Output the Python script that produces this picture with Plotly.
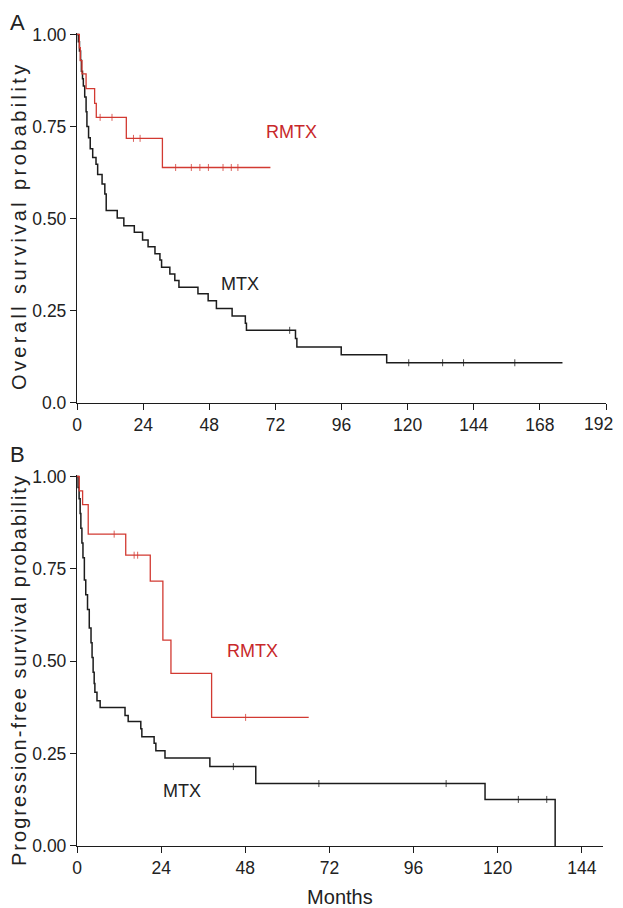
import numpy as np
import plotly.graph_objects as go

# ---------------- Data ----------------
# Panel A: Overall survival
os_rmtx_time = [0, 0.85, 1.2, 1.8, 3.3, 6.4, 7.0, 17.9, 31.0, 70.2]
os_rmtx_surv = [1.0, 0.964, 0.929, 0.893, 0.853, 0.813, 0.775, 0.718, 0.639, 0.639]
os_rmtx_cens = [8.4, 12.7, 20.5, 22.9, 35.8, 41.5, 44.6, 47.7, 53.0, 56.0, 58.4]

os_mtx_time = [0, 0.5, 0.9, 1.3, 1.6, 2.0, 2.3, 2.8, 3.3, 3.6, 4.2, 4.8, 5.7, 6.9,
               7.5, 9.1, 10.1, 10.6, 14.6, 17.0, 20.8, 23.8, 25.8, 28.3, 30.1, 30.7,
               33.7, 35.5, 37.0, 43.9, 47.6, 50.6, 56.3, 61.1, 61.5, 79.3, 79.8,
               95.9, 112.4, 176.2]
os_mtx_surv = [1.0, 0.98, 0.955, 0.93, 0.90, 0.88, 0.86, 0.83, 0.79, 0.75, 0.72, 0.69,
               0.666, 0.648, 0.62, 0.594, 0.567, 0.522, 0.502, 0.481, 0.463, 0.442,
               0.424, 0.405, 0.388, 0.368, 0.35, 0.332, 0.314, 0.296, 0.277, 0.256,
               0.236, 0.216, 0.197, 0.175, 0.152, 0.131, 0.109, 0.109]
os_mtx_cens = [77.2, 120.4, 132.7, 140.3, 158.9]

# Panel B: Progression-free survival
pfs_rmtx_time = [0, 0.66, 1.6, 3.2, 13.9, 20.9, 24.5, 26.8, 38.4, 66.1]
pfs_rmtx_surv = [1.0, 0.961, 0.924, 0.844, 0.787, 0.717, 0.557, 0.467, 0.348, 0.348]
pfs_rmtx_cens = [10.6, 16.3, 17.3, 48.1]

pfs_mtx_time = [0, 0.3, 0.6, 0.9, 1.1, 1.4, 1.7, 2.1, 2.5, 3.0, 3.5, 4.0, 4.3, 4.6,
                4.9, 5.1, 5.7, 6.6, 13.7, 14.6, 18.2, 18.5, 22.0, 22.5, 25.1, 37.9,
                51.0, 116.4, 136.4]
pfs_mtx_surv = [1.0, 0.97, 0.94, 0.90, 0.86, 0.82, 0.78, 0.72, 0.68, 0.64, 0.59, 0.55,
                0.51, 0.47, 0.44, 0.416, 0.393, 0.375, 0.353, 0.337, 0.317, 0.296,
                0.278, 0.258, 0.238, 0.215, 0.169, 0.126, 0.0]
pfs_mtx_cens = [44.6, 69.0, 105.3, 125.9, 134.0]

os_xticks = [0, 24, 48, 72, 96, 120, 144, 168, 192]
# the last label (192) sits at the page edge; it is drawn as an annotation below
os_xticktext = ["0", "24", "48", "72", "96", "120", "144", "168", ""]
os_last_tick = os_xticks[-1]
pfs_xticks = [0, 24, 48, 72, 96, 120, 144]
y_tickvals = [0, 0.25, 0.5, 0.75, 1.0]
os_yticktext = ["0.0", "0.25", "0.50", "0.75", "1.00"]
pfs_yticktext = ["0.00", "0.25", "0.50", "0.75", "1.00"]

RED = "#d23a32"
RED_TXT = "#c8282a"
BLACK = "#1c1c1c"
TXT = "#222222"
FONT = "Liberation Sans, Arial, sans-serif"


def surv_at(times, survs, t):
    idx = np.searchsorted(np.array(times), t, side="right") - 1
    return [survs[i] for i in idx]


fig = go.Figure()


def add_curve(times, survs, cens, color, width, xa, ya):
    fig.add_trace(go.Scatter(x=times, y=survs, mode="lines", line_shape="hv",
                             line=dict(color=color, width=width),
                             xaxis=xa, yaxis=ya, showlegend=False, hoverinfo="skip"))
    fig.add_trace(go.Scatter(x=cens, y=surv_at(times, survs, cens), mode="markers",
                             marker=dict(symbol="line-ns", size=5,
                                         line=dict(color=color, width=0.8)),
                             xaxis=xa, yaxis=ya, showlegend=False, hoverinfo="skip"))


add_curve(os_mtx_time, os_mtx_surv, os_mtx_cens, BLACK, 1.5, "x", "y")
add_curve(os_rmtx_time, os_rmtx_surv, os_rmtx_cens, RED, 1.3, "x", "y")
add_curve(pfs_mtx_time, pfs_mtx_surv, pfs_mtx_cens, BLACK, 1.5, "x2", "y2")
add_curve(pfs_rmtx_time, pfs_rmtx_surv, pfs_rmtx_cens, RED, 1.3, "x2", "y2")

axis_common = dict(showline=True, linecolor=BLACK, linewidth=1.3, ticks="outside",
                   ticklen=6, tickwidth=1.3, tickcolor=BLACK, showgrid=False,
                   zeroline=False, automargin=False, ticklabeloverflow="allow",
                   tickfont=dict(size=17.5, color=TXT, family=FONT))

# page has an 8px body margin: figure is drawn at (8, 8)
fig.update_layout(
    width=607, height=900,
    margin=dict(l=69, r=9, t=25, b=62),
    paper_bgcolor="white", plot_bgcolor="white",
    font=dict(family=FONT, color=TXT),
    xaxis=dict(domain=[0, 1], range=[0, 192], tickvals=os_xticks,
               ticktext=os_xticktext, anchor="y", **axis_common),
    yaxis=dict(domain=[0.545, 1], range=[0, 1.004], tickvals=y_tickvals,
               ticktext=os_yticktext, anchor="x", **axis_common),
    xaxis2=dict(domain=[0, 0.994], range=[0, 150], tickvals=pfs_xticks, anchor="y2",
                title=dict(text="Months", standoff=16,
                           font=dict(size=20, color=TXT)),
                **axis_common),
    yaxis2=dict(domain=[0, 0.4563], range=[0, 1.004], tickvals=y_tickvals,
                ticktext=pfs_yticktext, anchor="x2", **axis_common),
)

annotations = [
    dict(text=str(os_last_tick), x=os_last_tick, y=0.545, xref="x", yref="paper",
         xanchor="right", yanchor="middle", xshift=8, yshift=-21, showarrow=False,
         borderpad=0, font=dict(size=17.5, color=TXT, family=FONT)),
    dict(text='<span style="letter-spacing:3.4px">Overall survival probability</span>',
         x=0, y=0.7626, xref="paper", yref="paper", xshift=-58, textangle=-90,
         xanchor="center", yanchor="middle", showarrow=False,
         font=dict(size=20, color=TXT)),
    dict(text='<span style="letter-spacing:2.0px">Progression-free survival probability</span>',
         x=0, y=0.2165, xref="paper", yref="paper", xshift=-58, textangle=-90,
         xanchor="center", yanchor="middle", showarrow=False,
         font=dict(size=20, color=TXT)),
    dict(text="RMTX", x=77.9, y=0.735, xref="x", yref="y", showarrow=False,
         font=dict(size=18, color=RED_TXT)),
    dict(text="MTX", x=59.1, y=0.322, xref="x", yref="y", showarrow=False,
         font=dict(size=18, color=TXT)),
    dict(text="RMTX", x=50.2, y=0.528, xref="x2", yref="y2", showarrow=False,
         font=dict(size=18, color=RED_TXT)),
    dict(text="MTX", x=29.9, y=0.150, xref="x2", yref="y2", showarrow=False,
         font=dict(size=18, color=TXT)),
    dict(text="A", x=0, y=1, xref="paper", yref="paper", xshift=-69, yshift=25,
         xanchor="left", yanchor="top", showarrow=False,
         font=dict(size=22, color=TXT)),
    dict(text="B", x=0, y=0.4563, xref="paper", yref="paper", xshift=-69, yshift=35,
         xanchor="left", yanchor="top", showarrow=False,
         font=dict(size=22, color=TXT)),
]
fig.update_layout(annotations=annotations)

fig.write_html("out.html")
